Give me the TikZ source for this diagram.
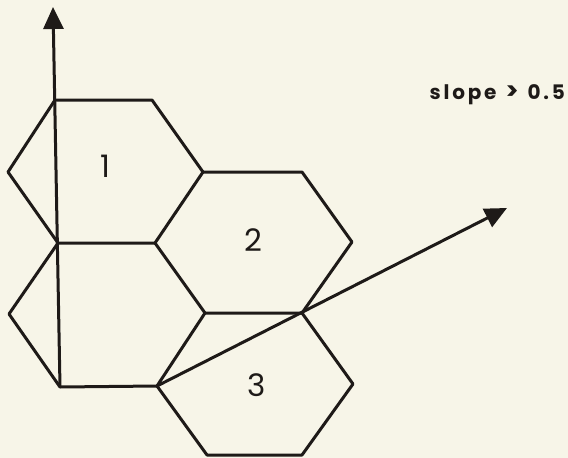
\documentclass[tikz,border=0pt]{standalone}
\usepackage{fontspec}
\setmainfont{Poppins}
\newfontfamily\slopefont[LetterSpace=14]{Poppins}
\usetikzlibrary{arrows.meta}
\definecolor{bg}{RGB}{247,245,232}
\definecolor{ink}{RGB}{30,26,24}
\begin{document}
\begin{tikzpicture}[x=1pt,y=-1pt,
  edge/.style={draw=ink,line width=3pt,line join=round,line cap=round},
  axisline/.style={draw=ink,line width=3pt,-{Triangle[length=22pt,width=20pt]}},
  num/.style={font=\fontsize{31}{31}\selectfont,text=ink,inner sep=0pt},
  note/.style={font=\slopefont\bfseries\fontsize{20}{20}\selectfont,text=ink,inner sep=0pt}]
\fill[bg] (0,0) rectangle (568,458);
\useasboundingbox (0,0) rectangle (568,458);
% vertices
\coordinate (a1) at (55,100);
\coordinate (b1) at (152,100);
\coordinate (r1) at (203,172);
\coordinate (c1) at (155,243);
\coordinate (d1) at (58,243);
\coordinate (l1) at (8,172);
\coordinate (r2) at (302,172);
\coordinate (e2) at (352,242);
\coordinate (f2) at (302,313);
\coordinate (g2) at (205,313);
\coordinate (c4) at (157,386);
\coordinate (d4) at (60,387);
\coordinate (l4) at (9,314);
\coordinate (e3) at (353,384);
\coordinate (f3) at (302,455);
\coordinate (g3) at (207,455);
\coordinate (top) at (53,7);
\coordinate (tip) at (507,208);
% hexagons
\draw[edge] (a1) -- (b1) -- (r1) -- (c1) -- (d1) -- (l1) -- cycle;
\draw[edge] (r1) -- (r2) -- (e2) -- (f2) -- (g2) -- (c1);
\draw[edge] (d1) -- (l4) -- (d4) -- (c4) -- (g2);
\draw[edge] (f2) -- (e3) -- (f3) -- (g3) -- (c4);
% axes
\draw[axisline] (d4) -- (top);
\draw[axisline] (c4) -- (tip);
% labels
\node[num] (n1) at (105,166) {1};
\node[num] (n2) at (253,240) {2};
\node[num] (n3) at (257,385) {3};
\node[note,anchor=base east] (slope) at (565,99) {slope\hspace{9pt}{\fontsize{24}{24}\selectfont >}\hspace{9pt}0.5};
\end{tikzpicture}
\end{document}
